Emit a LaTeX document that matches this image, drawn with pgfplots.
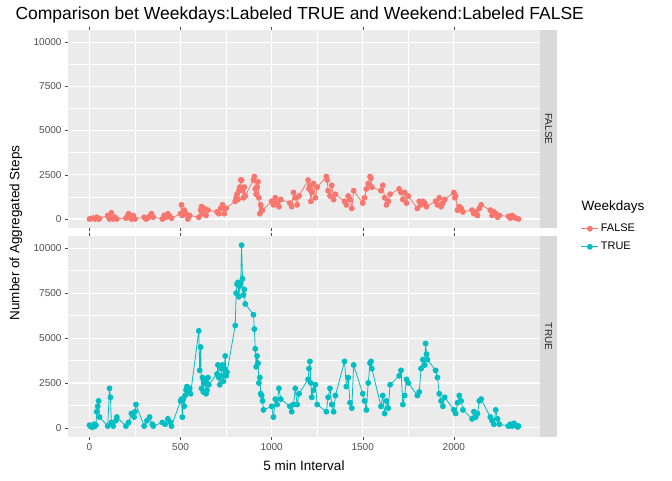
\documentclass[border=0pt]{standalone}
\usepackage{pgfplots}
\pgfplotsset{compat=1.18}
\usepackage{fontspec}
\setmainfont{Liberation Sans}
\definecolor{cF}{HTML}{F8766D}
\definecolor{cT}{HTML}{00BFC4}
\definecolor{bg}{HTML}{EBEBEB}
\definecolor{strip}{HTML}{D9D9D9}
\definecolor{tk}{HTML}{4D4D4D}
\pgfplotsset{
 panel/.style={scale only axis, width=472pt, anchor=south west,
  xmin=-118, xmax=2473, ymin=-509, ymax=10683,
  axis background/.style={fill=bg}, axis line style={draw=none},
  xtick={0,500,1000,1500,2000}, ytick={0,2500,5000,7500,10000},
  minor x tick num=1, minor y tick num=1,
  grid=both, major grid style={white, line width=1.1pt}, minor grid style={white, line width=0.5pt},
  tick align=outside, major tick length=3pt, minor tick length=0pt,
  tick style={tk, line width=0.5pt},
  ticklabel style={font=\fontsize{10}{11}\selectfont, text=tk},
  /pgf/number format/assume math mode=true,
  scaled ticks=false, yticklabel style={/pgf/number format/.cd, fixed, 1000 sep={}},
  xticklabel style={/pgf/number format/.cd, 1000 sep={}},
  every axis plot/.append style={line width=0.8pt, mark=*, mark size=2.5pt},
 }}
\begin{document}
\begin{tikzpicture}[x=1pt,y=1pt]
\path (0,0) rectangle (672,480);
\node[anchor=west, font=\fontsize{17.5}{19}\selectfont] at (12,465) {Comparison bet Weekdays:Labeled TRUE and Weekend:Labeled FALSE};
\begin{axis}[panel, at={(68pt,252pt)}, height=198pt, xticklabels={}]
\addplot[cF, mark options={fill=cF}] coordinates {(0,0)(10,20)(20,50)(30,0)(40,100)(50,0)(55,20)(100,200)(105,100)(110,0)(120,350)(130,0)(140,100)(150,0)(200,50)(210,200)(215,300)(220,100)(230,0)(240,200)(250,0)(300,100)(310,0)(320,50)(330,150)(340,300)(350,100)(400,0)(410,200)(420,100)(430,300)(440,150)(450,50)(500,300)(505,800)(510,200)(520,500)(530,300)(540,0)(550,200)(600,100)(610,500)(615,700)(620,300)(630,600)(640,200)(650,500)(700,400)(710,300)(720,600)(730,800)(740,300)(750,600)(800,1000)(805,1200)(810,1400)(815,1100)(820,1600)(825,1800)(830,2200)(835,2200)(840,1600)(845,1200)(850,1800)(855,1300)(900,2200)(905,2400)(910,1700)(915,1400)(920,1800)(925,2100)(930,1200)(935,300)(940,800)(950,500)(1000,1000)(1010,800)(1020,1200)(1030,900)(1040,700)(1050,1100)(1100,900)(1110,700)(1120,1500)(1130,1200)(1140,800)(1150,1300)(1200,2200)(1205,1700)(1210,1900)(1215,1000)(1220,1500)(1230,2000)(1240,1200)(1250,1800)(1300,2400)(1305,2200)(1310,1600)(1320,1300)(1330,1900)(1340,1100)(1350,1400)(1400,1000)(1410,800)(1420,1300)(1430,1100)(1440,600)(1450,1600)(1500,900)(1510,1200)(1520,1700)(1530,2000)(1540,2400)(1545,2300)(1550,1800)(1600,1600)(1610,1900)(1620,1200)(1630,800)(1640,1000)(1650,1400)(1700,1700)(1710,1500)(1720,1100)(1730,1500)(1740,900)(1750,1300)(1800,600)(1810,1000)(1820,800)(1830,1000)(1840,900)(1850,700)(1900,1000)(1910,800)(1920,1200)(1930,700)(1940,900)(1950,1100)(2000,1500)(2005,1200)(2010,1300)(2020,500)(2030,700)(2040,600)(2050,400)(2100,500)(2110,300)(2120,400)(2130,200)(2140,600)(2150,800)(2200,500)(2210,200)(2220,400)(2230,300)(2240,100)(2250,200)(2300,150)(2310,50)(2320,200)(2330,100)(2340,50)(2355,0)};
\end{axis}
\begin{axis}[panel, at={(68pt,43pt)}, height=201pt,
  legend style={at={(1.08,1.08)}, anchor=north west, draw=none, fill=none, font=\fontsize{11}{13}\selectfont, row sep=5pt},
  legend cell align=left]
\addlegendimage{cF, line width=0.8pt, mark=*, mark size=2.5pt, mark options={fill=cF}}
\addlegendentry{FALSE}
\addplot[cT, mark options={fill=cT}] coordinates {(0,150)(5,100)(10,50)(15,80)(20,50)(25,200)(30,100)(35,150)(40,900)(45,1200)(50,1500)(55,600)(100,100)(110,2200)(115,1700)(120,300)(130,100)(145,400)(150,600)(200,100)(215,300)(230,800)(245,600)(250,900)(255,1300)(300,100)(315,400)(330,600)(345,200)(350,100)(400,300)(415,200)(430,500)(445,300)(450,100)(500,1500)(505,1600)(510,600)(515,1600)(520,1200)(525,1800)(530,2100)(535,2300)(540,2200)(545,2000)(550,2200)(555,1900)(600,5400)(605,3200)(610,4500)(615,2200)(620,2800)(625,2000)(630,2500)(635,2700)(640,1900)(645,2100)(650,2800)(655,2400)(700,3000)(705,3500)(710,2800)(715,2400)(720,2900)(725,3300)(730,3500)(735,2600)(740,3300)(745,4000)(750,2900)(755,3100)(800,5700)(805,7500)(810,8000)(815,8100)(820,7300)(825,7900)(830,8100)(835,10174)(840,8300)(845,7400)(850,7700)(855,6900)(900,6300)(905,5500)(910,4400)(915,3400)(920,4000)(925,3600)(930,2500)(935,2800)(940,1900)(945,1800)(950,1500)(955,1000)(1000,1200)(1010,600)(1020,1600)(1030,1300)(1040,2200)(1050,1600)(1100,1200)(1110,900)(1120,1300)(1130,2200)(1140,1300)(1150,1900)(1200,2700)(1205,3300)(1210,3700)(1215,2500)(1220,1700)(1230,2100)(1240,2400)(1250,1300)(1300,900)(1310,1700)(1320,2200)(1330,1300)(1340,900)(1350,1800)(1400,3700)(1410,2300)(1420,2800)(1430,1400)(1440,1100)(1450,3500)(1500,1900)(1510,1500)(1520,1000)(1530,2500)(1540,3600)(1545,3700)(1550,3300)(1600,1200)(1610,1800)(1620,800)(1630,1500)(1640,1100)(1650,2400)(1700,2900)(1710,3200)(1720,1300)(1730,1800)(1740,2700)(1750,2500)(1800,1800)(1810,2000)(1820,3300)(1830,3800)(1840,3500)(1845,4700)(1850,4100)(1855,3800)(1900,3200)(1910,2800)(1920,1900)(1930,1500)(1940,1200)(1950,1700)(2000,1000)(2010,800)(2020,1400)(2030,1800)(2040,1500)(2050,1000)(2100,500)(2110,900)(2120,600)(2130,800)(2140,1500)(2150,1600)(2200,600)(2210,400)(2220,200)(2230,1000)(2240,500)(2250,200)(2300,100)(2310,200)(2320,100)(2330,250)(2340,150)(2350,50)(2355,100)};
\addlegendentry{TRUE}
\end{axis}
\fill[strip] (540,252) rectangle (557,450);
\node[rotate=-90, font=\fontsize{10}{11}\selectfont, text=black!85] at (548.5,351) {FALSE};
\fill[strip] (540,43) rectangle (557,244);
\node[rotate=-90, font=\fontsize{10}{11}\selectfont, text=black!85] at (548.5,143.5) {TRUE};
\node[anchor=west, font=\fontsize{13.5}{15}\selectfont] at (578,273) {Weekdays};
\node[rotate=90, font=\fontsize{13.5}{15}\selectfont] at (16,247) {Number of Aggregated Steps};
\node[font=\fontsize{13.5}{15}\selectfont] at (304,14) {5 min Interval};
\end{tikzpicture}
\end{document}
